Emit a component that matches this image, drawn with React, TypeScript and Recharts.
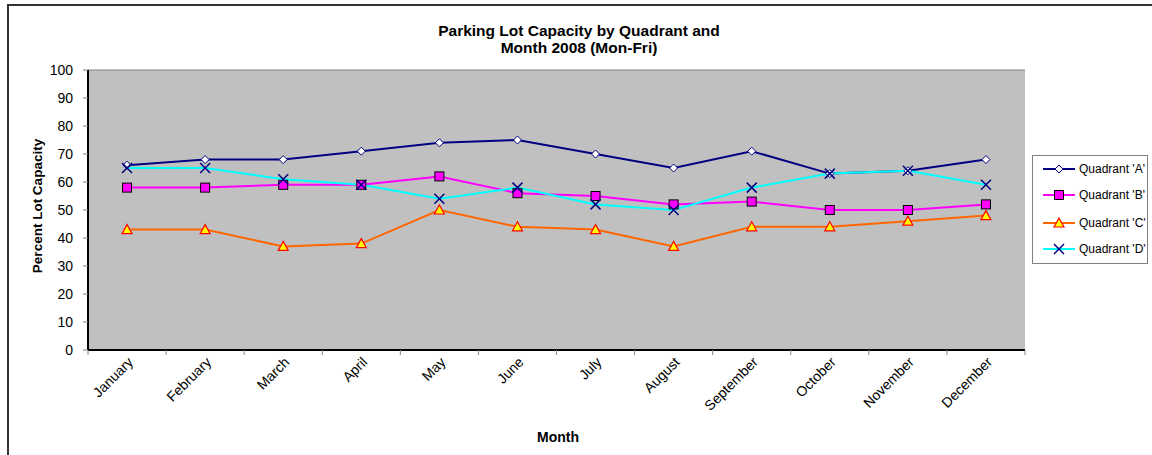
import React from 'react';
import { LineChart, Line, XAxis, YAxis, CartesianGrid } from 'recharts';

if (typeof document !== 'undefined') {
  document.body.style.margin = '0';
}

const months = ['January', 'February', 'March', 'April', 'May', 'June', 'July', 'August', 'September', 'October', 'November', 'December'];
const quadrantA = [66, 68, 68, 71, 74, 75, 70, 65, 71, 63, 64, 68];
const quadrantB = [58, 58, 59, 59, 62, 56, 55, 52, 53, 50, 50, 52];
const quadrantC = [43, 43, 37, 38, 50, 44, 43, 37, 44, 44, 46, 48];
const quadrantD = [65, 65, 61, 59, 54, 58, 52, 50, 58, 63, 64, 59];
const yTicks = [0, 10, 20, 30, 40, 50, 60, 70, 80, 90, 100];
const seriesNames = ["Quadrant 'A'", "Quadrant 'B'", "Quadrant 'C'", "Quadrant 'D'"];

const data = months.map((m, i) => ({
  month: m,
  A: quadrantA[i],
  B: quadrantB[i],
  C: quadrantC[i],
  D: quadrantD[i],
}));

const FONT = '"Liberation Sans", Arial, Helvetica, sans-serif';
const W = 1152;
const H = 455;
const PLOT_LEFT = 88;
const PLOT_RIGHT = 1025;
const BAND = (PLOT_RIGHT - PLOT_LEFT) / months.length;

const NAVY = '#000080';
const MAGENTA = '#FF00FF';
const ORANGE = '#FF6600';
const CYAN = '#00FFFF';

function Diamond({ cx, cy }: any) {
  if (cx == null || cy == null) return null;
  const r = 4;
  return (
    <polygon
      points={`${cx},${cy - r} ${cx + r},${cy} ${cx},${cy + r} ${cx - r},${cy}`}
      fill="#FFFFFF"
      stroke={NAVY}
      strokeWidth={1}
    />
  );
}

function Square({ cx, cy }: any) {
  if (cx == null || cy == null) return null;
  const r = 4.5;
  return <rect x={cx - r} y={cy - r} width={r * 2} height={r * 2} fill={MAGENTA} stroke="#000000" strokeWidth={1} />;
}

function Triangle({ cx, cy }: any) {
  if (cx == null || cy == null) return null;
  return (
    <polygon
      points={`${cx},${cy - 5} ${cx + 5},${cy + 4} ${cx - 5},${cy + 4}`}
      fill="#FFFF00"
      stroke="#FF0000"
      strokeWidth={1.2}
    />
  );
}

function Cross({ cx, cy }: any) {
  if (cx == null || cy == null) return null;
  const r = 5;
  return (
    <g stroke={NAVY} strokeWidth={1.5}>
      <line x1={cx - r} y1={cy - r} x2={cx + r} y2={cy + r} />
      <line x1={cx - r} y1={cy + r} x2={cx + r} y2={cy - r} />
    </g>
  );
}

function XTick(props: any) {
  const { x, y, payload, index } = props;
  const axisY = y - 7;
  const ax = x + 7;
  const ay = y + 6;
  return (
    <g>
      <line x1={x - BAND / 2} x2={x - BAND / 2} y1={axisY} y2={axisY + 5} stroke="#808080" strokeWidth={1} />
      {index === months.length - 1 && (
        <line x1={x + BAND / 2} x2={x + BAND / 2} y1={axisY} y2={axisY + 5} stroke="#808080" strokeWidth={1} />
      )}
      <text
        x={ax}
        y={ay}
        transform={`rotate(-45 ${ax} ${ay})`}
        textAnchor="end"
        fontSize={14}
        fontFamily={FONT}
        fill="#000000"
      >
        {payload.value}
      </text>
    </g>
  );
}

function LegendMarker({ i, x, y }: { i: number; x: number; y: number }) {
  if (i === 0) return <Diamond cx={x} cy={y} />;
  if (i === 1) return <Square cx={x} cy={y} />;
  if (i === 2) return <Triangle cx={x} cy={y} />;
  return <Cross cx={x} cy={y} />;
}

function ChartLegend() {
  const colors = [NAVY, MAGENTA, ORANGE, CYAN];
  const rows = [14, 40, 68, 94];
  return (
    <svg
      width={117}
      height={110}
      style={{ position: 'absolute', left: 1032, top: 155 }}
    >
      <rect x={0.5} y={0.5} width={115} height={108} fill="#FFFFFF" stroke="#808080" strokeWidth={1} />
      {seriesNames.map((name, i) => (
        <g key={name}>
          <line x1={11} x2={43} y1={rows[i]} y2={rows[i]} stroke={colors[i]} strokeWidth={2} />
          <LegendMarker i={i} x={27} y={rows[i]} />
          <text x={47} y={rows[i] + 4} fontSize={12} fontFamily={FONT} fill="#000000">
            {name}
          </text>
        </g>
      ))}
    </svg>
  );
}

export default function App() {
  return (
    <div style={{ position: 'relative', width: W, height: H, background: '#FFFFFF', overflow: 'hidden' }}>
      <div
        style={{
          position: 'absolute',
          left: 7,
          top: 4,
          width: W,
          height: H,
          borderLeft: '2px solid #333333',
          borderTop: '2px solid #333333',
          boxSizing: 'border-box',
        }}
      />
      <LineChart
        width={W}
        height={H}
        data={data}
        margin={{ top: 70, right: W - PLOT_RIGHT, bottom: 25, left: 8 }}
        style={{ position: 'absolute', left: 0, top: 0 }}
      >
        <CartesianGrid vertical={false} stroke="#808080" strokeWidth={1} fill="#C0C0C0" fillOpacity={1} />
        <XAxis
          dataKey="month"
          scale="band"
          height={80}
          interval={0}
          tickLine={false}
          tickSize={5}
          tickMargin={2}
          axisLine={{ stroke: '#000000', strokeWidth: 2 }}
          tick={<XTick />}
        />
        <YAxis
          yAxisId="left"
          width={80}
          domain={[0, 100]}
          ticks={yTicks}
          interval={0}
          tickSize={5}
          tickMargin={10}
          tickLine={{ stroke: '#808080' }}
          axisLine={{ stroke: '#000000', strokeWidth: 2 }}
          tick={{ fontSize: 14, fontFamily: FONT, fill: '#000000' }}
        />
        <YAxis
          yAxisId="right"
          orientation="right"
          width={0}
          domain={[0, 100]}
          tick={false}
          tickLine={false}
          axisLine={{ stroke: '#808080', strokeWidth: 2 }}
        />
        <Line yAxisId="left" type="linear" dataKey="A" stroke={NAVY} strokeWidth={2} dot={<Diamond />} activeDot={false} isAnimationActive={false} />
        <Line yAxisId="left" type="linear" dataKey="B" stroke={MAGENTA} strokeWidth={2} dot={<Square />} activeDot={false} isAnimationActive={false} />
        <Line yAxisId="left" type="linear" dataKey="C" stroke={ORANGE} strokeWidth={2} dot={<Triangle />} activeDot={false} isAnimationActive={false} />
        <Line yAxisId="left" type="linear" dataKey="D" stroke={CYAN} strokeWidth={2} dot={<Cross />} activeDot={false} isAnimationActive={false} />
      </LineChart>
      <svg width={W} height={H} style={{ position: 'absolute', left: 0, top: 0, pointerEvents: 'none' }}>
        <text x={579} y={36} textAnchor="middle" fontSize={15.5} fontWeight="bold" fontFamily={FONT} fill="#000000">
          Parking Lot Capacity by Quadrant and
        </text>
        <text x={579} y={53} textAnchor="middle" fontSize={15.5} fontWeight="bold" fontFamily={FONT} fill="#000000">
          Month 2008 (Mon-Fri)
        </text>
        <text x={558} y={442} textAnchor="middle" fontSize={14} fontWeight="bold" fontFamily={FONT} fill="#000000">
          Month
        </text>
        <text
          x={42}
          y={206}
          textAnchor="middle"
          transform="rotate(-90 42 206)"
          fontSize={13.5}
          fontWeight="bold"
          fontFamily={FONT}
          fill="#000000"
        >
          Percent Lot Capacity
        </text>
      </svg>
      <ChartLegend />
    </div>
  );
}
